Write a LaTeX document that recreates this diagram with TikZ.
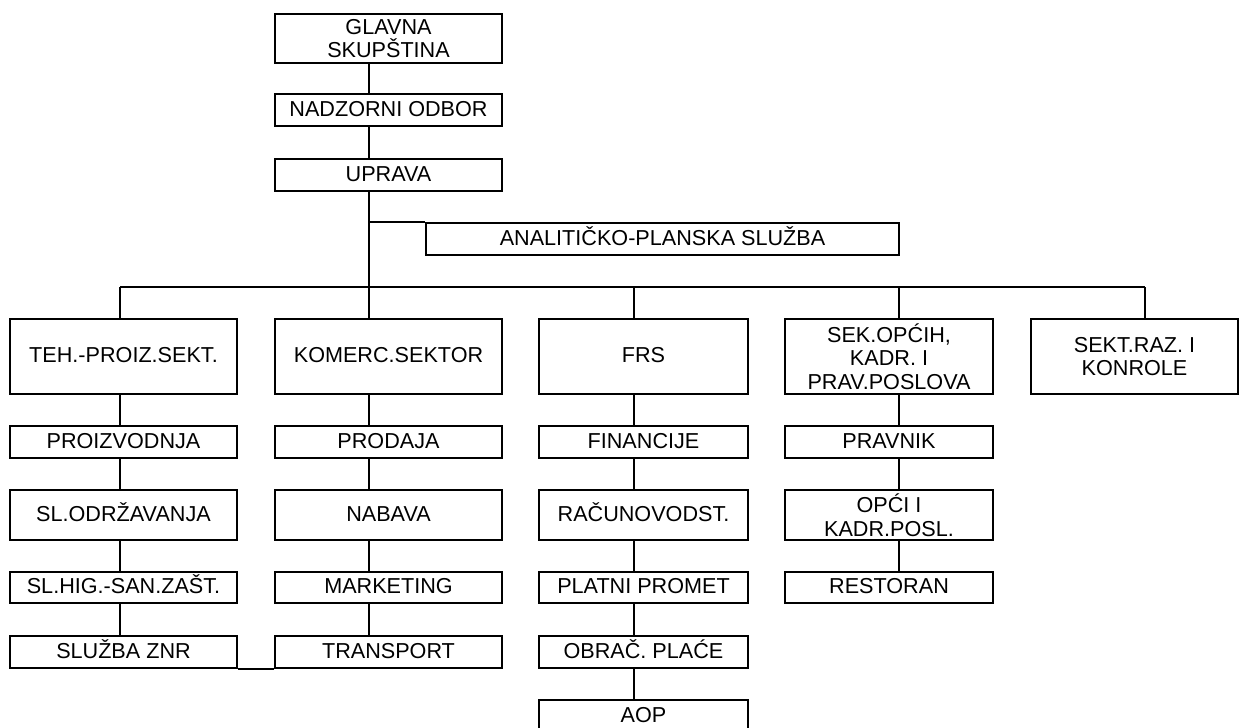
\documentclass[tikz,border=0pt]{standalone}
\usepackage{fontspec}
\setmainfont{Liberation Sans}
\tikzset{
	unit/.style={draw, line width=1.2pt, inner sep=0pt, align=center, font=\fontsize{12.3}{13.5}\selectfont},
	oneline/.style={unit, text height=0.95em, text depth=0.25em},
	link/.style={line width=1.2pt},
}
\begin{document}
\begin{tikzpicture}[x=0.02cm, y=-0.02cm]
	\useasboundingbox (0, 0) rectangle (1239, 727);
	\clip (0, 0) rectangle (1239, 727);
	\fill[white] (0, 0) rectangle (1239, 727);

	% top of the tree
	\node[unit, minimum width=4.54cm, minimum height=0.98cm] (glavna) at (388.5, 38.5) {GLAVNA\\SKUPŠTINA};
	\node[oneline, minimum width=4.54cm, minimum height=0.64cm] (nadzor) at (388.5, 110) {NADZORNI ODBOR};
	\node[oneline, minimum width=4.54cm, minimum height=0.64cm] (uprava) at (388.5, 175) {UPRAVA};
	\node[oneline, minimum width=9.46cm, minimum height=0.64cm] (analit) at (662.5, 239) {ANALITIČKO-PLANSKA SLUŽBA};

	% columns of the bus
	\coordinate (c1) at (120, 287);
	\coordinate (c2) at (369, 287);
	\coordinate (c3) at (634, 287);
	\coordinate (c4) at (899, 287);
	\coordinate (c5) at (1145, 287);

	% sectors
	\node[oneline, minimum width=4.54cm, minimum height=1.5cm] (teh) at (123.5, 356.5) {TEH.-PROIZ.SEKT.};
	\node[oneline, minimum width=4.54cm, minimum height=1.5cm] (komerc) at (388.5, 356.5) {KOMERC.SEKTOR};
	\node[oneline, minimum width=4.18cm, minimum height=1.5cm] (frs) at (643.5, 356.5) {FRS};
	\node[unit, minimum width=4.16cm, minimum height=1.5cm] (sekop) at (889, 356.5) {SEK.OPĆIH,\\KADR. I\\PRAV.POSLOVA};
	\node[unit, minimum width=4.14cm, minimum height=1.5cm] (sektraz) at (1134.5, 356.5) {SEKT.RAZ. I\\KONROLE};

	% first column
	\node[oneline, minimum width=4.54cm, minimum height=0.64cm] (proizv) at (123.5, 442) {PROIZVODNJA};
	\node[oneline, minimum width=4.54cm, minimum height=1.0cm] (odrz) at (123.5, 515) {SL.ODRŽAVANJA};
	\node[oneline, minimum width=4.54cm, minimum height=0.63cm] (hig) at (123.5, 587.5) {SL.HIG.-SAN.ZAŠT.};
	\node[oneline, minimum width=4.54cm, minimum height=0.64cm] (znr) at (123.5, 652) {SLUŽBA ZNR};

	% second column
	\node[oneline, minimum width=4.54cm, minimum height=0.64cm] (prodaja) at (388.5, 442) {PRODAJA};
	\node[oneline, minimum width=4.54cm, minimum height=1.0cm] (nabava) at (388.5, 515) {NABAVA};
	\node[oneline, minimum width=4.54cm, minimum height=0.63cm] (marketing) at (388.5, 587.5) {MARKETING};
	\node[oneline, minimum width=4.54cm, minimum height=0.64cm] (transport) at (388.5, 652) {TRANSPORT};

	% third column
	\node[oneline, minimum width=4.18cm, minimum height=0.64cm] (financ) at (643.5, 442) {FINANCIJE};
	\node[oneline, minimum width=4.18cm, minimum height=1.0cm] (racun) at (643.5, 515) {RAČUNOVODST.};
	\node[oneline, minimum width=4.18cm, minimum height=0.63cm] (platni) at (643.5, 587.5) {PLATNI PROMET};
	\node[oneline, minimum width=4.18cm, minimum height=0.64cm] (obrac) at (643.5, 652) {OBRAČ. PLAĆE};
	\node[oneline, minimum width=4.18cm, minimum height=0.64cm] (aop) at (643.5, 716) {AOP};

	% fourth column
	\node[oneline, minimum width=4.16cm, minimum height=0.64cm] (pravnik) at (889, 442) {PRAVNIK};
	\node[unit, minimum width=4.16cm, minimum height=1.0cm] (opci) at (889, 515) {OPĆI I\\KADR.POSL.};
	\node[oneline, minimum width=4.16cm, minimum height=0.63cm] (restoran) at (889, 587.5) {RESTORAN};

	% connectors
	\draw[link] (glavna.south -| c2) -- (nadzor.north -| c2);
	\draw[link] (nadzor.south -| c2) -- (uprava.north -| c2);
	\draw[link] (uprava.south -| c2) -- (c2);
	\draw[link] (analit.north west -| c2) -- (analit.north west);
	\draw[link] (c1) -- (c5);

	\draw[link] (c1) -- (teh.north -| c1);
	\draw[link] (c2) -- (komerc.north -| c2);
	\draw[link] (c3) -- (frs.north -| c3);
	\draw[link] (c4) -- (sekop.north -| c4);
	\draw[link] (c5) -- (sektraz.north -| c5);

	\draw[link] (teh.south -| c1) -- (proizv.north -| c1);
	\draw[link] (proizv.south -| c1) -- (odrz.north -| c1);
	\draw[link] (odrz.south -| c1) -- (hig.north -| c1);
	\draw[link] (hig.south -| c1) -- (znr.north -| c1);

	\draw[link] (komerc.south -| c2) -- (prodaja.north -| c2);
	\draw[link] (prodaja.south -| c2) -- (nabava.north -| c2);
	\draw[link] (nabava.south -| c2) -- (marketing.north -| c2);
	\draw[link] (marketing.south -| c2) -- (transport.north -| c2);
	\draw[link] (znr.south east) -- (transport.south west);

	\draw[link] (frs.south -| c3) -- (financ.north -| c3);
	\draw[link] (financ.south -| c3) -- (racun.north -| c3);
	\draw[link] (racun.south -| c3) -- (platni.north -| c3);
	\draw[link] (platni.south -| c3) -- (obrac.north -| c3);
	\draw[link] (obrac.south -| c3) -- (aop.north -| c3);

	\draw[link] (sekop.south -| c4) -- (pravnik.north -| c4);
	\draw[link] (pravnik.south -| c4) -- (opci.north -| c4);
	\draw[link] (opci.south -| c4) -- (restoran.north -| c4);
\end{tikzpicture}
\end{document}
